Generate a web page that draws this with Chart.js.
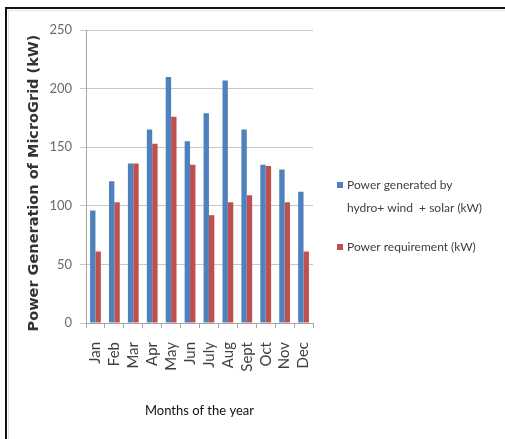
<!DOCTYPE html>
<html>
<head>
<meta charset="utf-8">
<script src="https://cdn.jsdelivr.net/npm/chart.js@4/dist/chart.umd.min.js"></script>
<style>
  html, body { margin: 0; padding: 0; background: #fff; overflow: hidden; }
  canvas { display: block; }
</style>
</head>
<body>
<canvas id="c" width="505" height="439"></canvas>
<script>
// Monthly microgrid generation vs. demand (kW)
const months = ['Jan', 'Feb', 'Mar', 'Apr', 'May', 'Jun', 'July', 'Aug', 'Sept', 'Oct', 'Nov', 'Dec'];
const generated = [96, 121, 136, 165, 210, 155, 179, 207, 165, 135, 131, 112];
const requirement = [61, 103, 136, 153, 176, 135, 92, 103, 109, 134, 103, 61];
const yTicks = [0, 50, 100, 150, 200, 250];

const seriesNames = ['Power generated by hydro+ wind  + solar (kW)', 'Power requirement (kW)'];
const legendLines = [['Power generated by', 'hydro+ wind  + solar (kW)'], ['Power requirement (kW)']];
const seriesColors = ['#4f81bd', '#c0504d'];

// White page with the dark frame along the top and left edges
const pageFrame = {
  id: 'pageFrame',
  beforeDraw(chart) {
    const ctx = chart.ctx;
    ctx.save();
    ctx.fillStyle = '#fff';
    ctx.fillRect(0, 0, chart.width, chart.height);
    ctx.fillStyle = '#e2e2e2';
    ctx.fillRect(8, 10, chart.width, 1);
    ctx.fillRect(8, 10, 1, chart.height);
    ctx.fillStyle = '#111';
    ctx.fillRect(5, 7, chart.width, 2);
    ctx.fillRect(5, 7, 2, chart.height);
    ctx.restore();
  }
};

// Legend to the right of the plot, first entry wrapped onto two lines
const sideLegend = {
  id: 'sideLegend',
  afterDraw(chart) {
    const ctx = chart.ctx;
    ctx.save();
    ctx.font = '12px Lato';
    ctx.textBaseline = 'middle';
    ctx.textAlign = 'left';
    const starts = [185, 247];
    chart.data.datasets.forEach((ds, i) => {
      const y0 = starts[i];
      ctx.fillStyle = ds.backgroundColor;
      ctx.fillRect(337, y0 - 3, 6, 6);
      ctx.fillStyle = '#404040';
      legendLines[i].forEach((line, j) => {
        ctx.fillText(line, 347, y0 + j * 23);
      });
    });
    ctx.restore();
  }
};

// Y-axis title centred on the full axis span
const yTitle = {
  id: 'yTitle',
  afterDraw(chart) {
    const ctx = chart.ctx;
    ctx.save();
    ctx.font = 'bold 14.5px "DejaVu Sans"';
    ctx.fillStyle = '#333';
    ctx.textAlign = 'center';
    ctx.textBaseline = 'middle';
    ctx.translate(34, 183);
    ctx.rotate(-Math.PI / 2);
    ctx.fillText('Power Generation of MicroGrid (kW)', 0, 0);
    ctx.restore();
  }
};

new Chart(document.getElementById('c'), {
  type: 'bar',
  data: {
    labels: months,
    datasets: [
      { label: seriesNames[0], data: generated, backgroundColor: seriesColors[0],
        barPercentage: 1, categoryPercentage: 0.57 },
      { label: seriesNames[1], data: requirement, backgroundColor: seriesColors[1],
        barPercentage: 1, categoryPercentage: 0.57 }
    ]
  },
  options: {
    responsive: false,
    animation: false,
    devicePixelRatio: 1,
    layout: { padding: { left: 26, top: 30, right: 192, bottom: 20 } },
    plugins: { legend: { display: false }, tooltip: { enabled: false } },
    scales: {
      x: {
        grid: { display: true, drawOnChartArea: false, drawTicks: true, tickLength: 5,
                color: '#a6a6a6', offset: true },
        border: { display: true, color: '#a6a6a6' },
        ticks: { minRotation: 90, maxRotation: 90, autoSkip: false, padding: 14,
                 color: '#404040', font: { family: 'Lato', size: 15 } },
        title: { display: true, text: 'Months of the year', color: '#111',
                 font: { family: 'Lato', size: 13 }, padding: 0 },
        afterFit(s) { s.height = 96; }
      },
      y: {
        min: 0, max: 250,
        afterBuildTicks(s) { s.ticks = yTicks.map(v => ({ value: v })); },
        grid: { color: '#c8c8c8', tickLength: 6, drawTicks: true },
        border: { display: true, color: '#a6a6a6' },
        ticks: { padding: 8, color: '#6a6a6a', font: { family: 'Lato', size: 13 } },
        title: { display: false },
        afterFit(s) { s.width = 60; }
      }
    }
  },
  plugins: [pageFrame, sideLegend, yTitle]
});
</script>
</body>
</html>
